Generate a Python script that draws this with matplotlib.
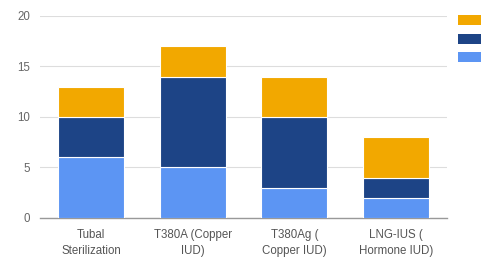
import matplotlib
matplotlib.use('Agg')
import matplotlib.pyplot as plt
from matplotlib.patches import Patch
import numpy as np

categories = ['Tubal\nSterilization', 'T380A (Copper\nIUD)', 'T380Ag (\nCopper IUD)', 'LNG-IUS (\nHormone IUD)']
bottom_vals = [6, 5, 3, 2]
middle_vals = [4, 9, 7, 2]
top_vals = [3, 3, 4, 4]

colors = ['#5C95F3', '#1D4486', '#F2A800']

plt.rcParams['font.family'] = ['Liberation Sans', 'DejaVu Sans']

fig = plt.figure(figsize=(4.83, 2.57), dpi=100, facecolor='white')
ax = fig.add_axes([0.083, 0.152, 0.842, 0.786])

x = np.arange(len(categories))
w = 0.65
b1 = np.array(bottom_vals)
b2 = b1 + np.array(middle_vals)
ax.bar(x, bottom_vals, w, color=colors[0], edgecolor='white', linewidth=0.8, zorder=3)
ax.bar(x, middle_vals, w, bottom=b1, color=colors[1], edgecolor='white', linewidth=0.8, zorder=3)
ax.bar(x, top_vals, w, bottom=b2, color=colors[2], edgecolor='white', linewidth=0.8, zorder=3)

ax.set_xlim(-0.5, len(categories) - 0.5)
ax.set_ylim(0, 20)
ax.set_yticks([0, 5, 10, 15, 20])
ax.set_xticks(x)
ax.set_xticklabels(categories, fontsize=8.3, color='#555555', linespacing=1.4)
ax.tick_params(axis='y', labelsize=8.3, labelcolor='#666666', length=0, pad=7)
ax.tick_params(axis='x', length=0, pad=8)
for s in ['top', 'right', 'left']:
    ax.spines[s].set_visible(False)
ax.spines['bottom'].set_color('#999999')
ax.spines['bottom'].set_linewidth(1.0)
ax.grid(axis='y', color='#dddddd', linewidth=0.8, zorder=0)

# legend labels are cut off in the original, only the swatches show
handles = [Patch(facecolor=c) for c in reversed(colors)]
fig.legend(handles, ['', '', ''], loc='upper left', bbox_to_anchor=(0.948, 0.945),
           frameon=False, fontsize=10, handlelength=1.65, handleheight=0.72,
           labelspacing=0.32, borderpad=0, borderaxespad=0, handletextpad=0)

fig.savefig('out.png', dpi=100, facecolor='white')
